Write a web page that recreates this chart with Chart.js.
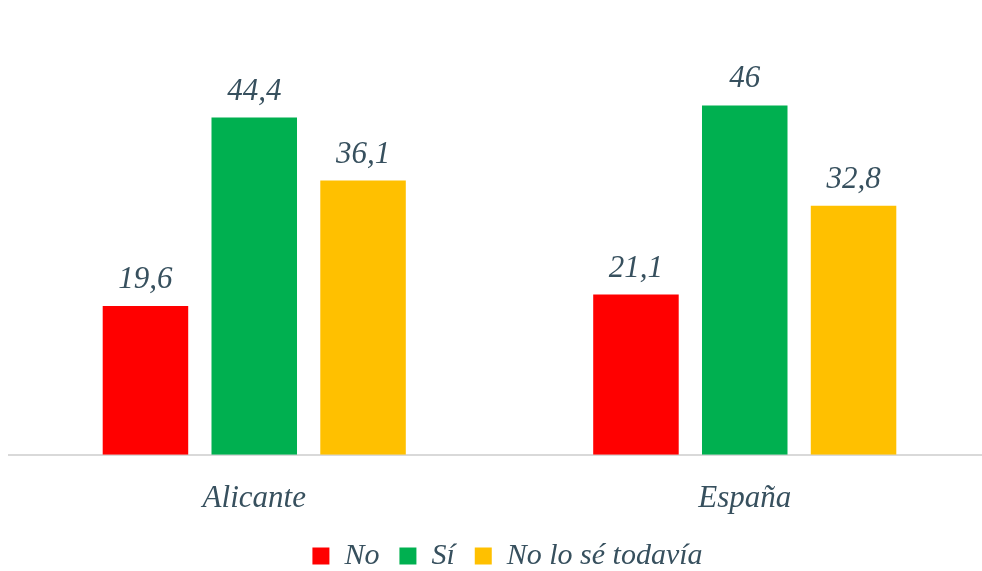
<!DOCTYPE html>
<html>
<head>
<meta charset="utf-8">
<script src="https://cdn.jsdelivr.net/npm/chart.js@4/dist/chart.umd.min.js"></script>
<style>
  html, body { margin: 0; padding: 0; background: #ffffff; overflow: hidden; }
  #wrap { width: 1000px; height: 602px; }
</style>
</head>
<body>
<div id="wrap"><canvas id="c" width="1000" height="602"></canvas></div>
<script>
const categories = ['Alicante', 'España'];
const seriesNames = ['No', 'Sí', 'No lo sé todavía'];
const valuesNo = [19.6, 21.1];
const valuesSi = [44.4, 46];
const valuesNoSe = [36.1, 32.8];
const seriesColors = ['#FF0000', '#00B050', '#FFC000'];
const yMin = 0;
const yMax = 50;

const textColor = '#37505E';
const fontFamily = '"Liberation Serif", "DejaVu Serif", serif';

const valueLabels = {
  id: 'valueLabels',
  afterDatasetsDraw(chart) {
    const ctx = chart.ctx;
    ctx.save();
    ctx.font = 'italic 31px ' + fontFamily;
    ctx.fillStyle = textColor;
    ctx.textAlign = 'center';
    ctx.textBaseline = 'alphabetic';
    chart.data.datasets.forEach((ds, i) => {
      const meta = chart.getDatasetMeta(i);
      meta.data.forEach((bar, j) => {
        const txt = String(ds.data[j]).replace('.', ',');
        ctx.fillText(txt, bar.x, bar.y - 18);
      });
    });
    ctx.restore();
  }
};

// nudge the legend box closer to the axis labels (Excel-like spacing)
const legendNudge = {
  id: 'legendNudge',
  afterLayout(chart) {
    const lg = chart.legend;
    if (!lg) return;
    lg.top -= 21; lg.bottom -= 21;
    lg.left += 8; lg.right += 8;
  }
};

new Chart(document.getElementById('c'), {
  type: 'bar',
  data: {
    labels: categories,
    datasets: [
      { label: seriesNames[0], data: valuesNo, backgroundColor: seriesColors[0] },
      { label: seriesNames[1], data: valuesSi, backgroundColor: seriesColors[1] },
      { label: seriesNames[2], data: valuesNoSe, backgroundColor: seriesColors[2] }
    ]
  },
  options: {
    responsive: false,
    animation: false,
    datasets: { bar: { categoryPercentage: 0.6654, barPercentage: 0.786 } },
    layout: { padding: { left: 9, right: 10, top: 75, bottom: 0 } },
    plugins: {
      legend: {
        position: 'bottom',
        labels: {
          boxWidth: 17,
          boxHeight: 17,
          padding: 20,
          color: textColor,
          font: { family: fontFamily, size: 30, style: 'italic' }
        }
      },
      tooltip: { enabled: false }
    },
    scales: {
      x: {
        grid: { display: false, drawTicks: false },
        border: { display: true, color: '#D9D9D9', width: 2 },
        ticks: {
          padding: 25,
          color: textColor,
          font: { family: fontFamily, size: 31, style: 'italic' }
        }
      },
      y: {
        display: false,
        min: yMin,
        max: yMax
      }
    }
  },
  plugins: [valueLabels, legendNudge]
});
</script>
</body>
</html>
